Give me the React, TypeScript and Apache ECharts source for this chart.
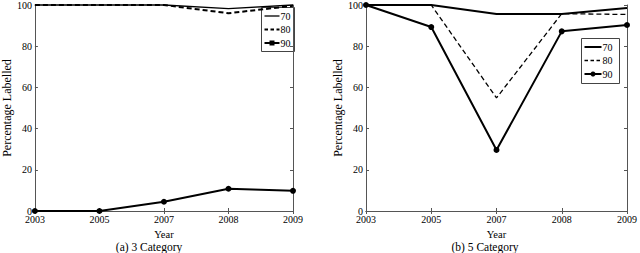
import React, { useEffect, useRef } from "react";
import * as echarts from "echarts";

const years = ["2003", "2005", "2007", "2008", "2009"];
const seriesNames = ["70", "80", "90"];

// (a) 3 Category
const cat3_70 = [100, 100, 100, 98.2, 100];
const cat3_80 = [100, 100, 100, 96, 99.6];
const cat3_90 = [0, 0, 4.5, 10.8, 9.8];

// (b) 5 Category
const cat5_70 = [100, 100, 95.6, 95.6, 98.6];
const cat5_80 = [100, 100, 54.9, 95.8, 95.4];
const cat5_90 = [100, 89.3, 29.6, 87.2, 90.3];

const captions = ["(a) 3 Category", "(b) 5 Category"];

const FONT = "Liberation Serif";

export default function App() {
  const ref = useRef<HTMLDivElement>(null);
  useEffect(() => {
    if (!ref.current) return;
    const chart = echarts.init(ref.current, null, { renderer: "svg" });
    const gridDefs = [
      { left: 30, top: 3, width: 263, height: 208 },
      { left: 366, top: 3, width: 263, height: 208 },
    ];
    const axisLine = { show: true, lineStyle: { color: "#555", width: 1 } };
    const tick = { show: true, inside: true, length: 3, lineStyle: { color: "#555" } };
    const xAxes: any[] = [];
    const yAxes: any[] = [];
    gridDefs.forEach((_, gi) => {
      xAxes.push({
        type: "category",
        gridIndex: gi,
        data: years,
        boundaryGap: false,
        position: "bottom",
        axisLine,
        axisTick: tick,
        axisLabel: { color: "#000", fontFamily: FONT, fontSize: 10, margin: 3 },
        name: "Year",
        nameLocation: "middle",
        nameGap: 12,
        nameTextStyle: { color: "#000", fontFamily: FONT, fontSize: 10.5 },
        splitLine: { show: false },
      });
      xAxes.push({
        type: "category",
        gridIndex: gi,
        data: years,
        boundaryGap: false,
        position: "top",
        axisLine,
        axisTick: tick,
        axisLabel: { show: false },
        splitLine: { show: false },
      });
      yAxes.push({
        type: "value",
        gridIndex: gi,
        min: 0,
        max: 100,
        interval: 20,
        position: "left",
        axisLine,
        axisTick: tick,
        axisLabel: { color: "#000", fontFamily: FONT, fontSize: 10, margin: 3 },
        name: "Percentage Labelled",
        nameLocation: "middle",
        nameGap: 18,
        nameTextStyle: { color: "#000", fontFamily: FONT, fontSize: 12 },
        splitLine: { show: false },
      });
      yAxes.push({
        type: "value",
        gridIndex: gi,
        min: 0,
        max: 100,
        interval: 20,
        position: "right",
        axisLine,
        axisTick: tick,
        axisLabel: { show: false },
        splitLine: { show: false },
      });
    });

    const mk = (name: string, data: number[], gi: number, kind: number, width: number) => ({
      name,
      type: "line",
      data,
      xAxisIndex: gi * 2,
      yAxisIndex: gi * 2,
      clip: false,
      symbol: kind === 2 ? "circle" : "none",
      symbolSize: 6,
      showSymbol: kind === 2,
      itemStyle: { color: "#000" },
      lineStyle: { color: "#000", width, type: kind === 1 ? [5, 3] : "solid" },
      z: 3 - kind,
    });

    const series = [
      mk(seriesNames[0], cat3_70, 0, 0, 1.3),
      mk(seriesNames[1], cat3_80, 0, 1, 2),
      mk(seriesNames[2], cat3_90, 0, 2, 2),
      mk(seriesNames[0], cat5_70, 1, 0, 2),
      mk(seriesNames[1], cat5_80, 1, 1, 1.3),
      mk(seriesNames[2], cat5_90, 1, 2, 2),
    ];

    // hand-drawn legend boxes (MATLAB style)
    const legendBox = (x: number, y: number, w: number, h: number, lineLen: number, widths: number[], square: boolean) => {
      const children: any[] = [
        { type: "rect", shape: { x: 0, y: 0, width: w, height: h }, style: { fill: "#fff", stroke: "#444", lineWidth: 1 } },
      ];
      const rowY = [8.5, 22, 35.5];
      seriesNames.forEach((nm, i) => {
        children.push({
          type: "line",
          shape: { x1: 3, y1: rowY[i], x2: 3 + lineLen, y2: rowY[i] },
          style: { stroke: "#000", lineWidth: widths[i], lineDash: i === 1 ? [3.5, 2.5] : null },
        });
        if (i === 2) {
          if (square) {
            children.push({ type: "rect", shape: { x: 3 + lineLen / 2 - 2.5, y: rowY[i] - 2.5, width: 5, height: 5 }, style: { fill: "#000" } });
          } else {
            children.push({ type: "circle", shape: { cx: 3 + lineLen / 2, cy: rowY[i], r: 2.5 }, style: { fill: "#000" } });
          }
        }
        children.push({
          type: "text",
          x: 3 + lineLen + 1,
          y: rowY[i],
          style: { text: nm, fill: "#000", font: `10px ${FONT}`, textAlign: "left", textVerticalAlign: "middle" },
        });
      });
      return { type: "group", x, y, z: 100, children };
    };

    chart.setOption({
      animation: false,
      grid: gridDefs,
      xAxis: xAxes,
      yAxis: yAxes,
      series,
      graphic: [
        legendBox(261.5, 7.5, 33, 44, 15, [1.3, 2, 2], true),
        legendBox(581.5, 38.5, 38, 45, 17, [2, 1.3, 2], false),
        {
          type: "text",
          x: 149,
          y: 247,
          style: { text: captions[0], fill: "#000", font: `11.5px ${FONT}`, textAlign: "center", textVerticalAlign: "middle" },
        },
        {
          type: "text",
          x: 485,
          y: 247,
          style: { text: captions[1], fill: "#000", font: `11.5px ${FONT}`, textAlign: "center", textVerticalAlign: "middle" },
        },
      ],
    });
    return () => chart.dispose();
  }, []);
  return <div ref={ref} style={{ width: 640, height: 253, position: "absolute", left: 0, top: 0, background: "#fff" }} />;
}
